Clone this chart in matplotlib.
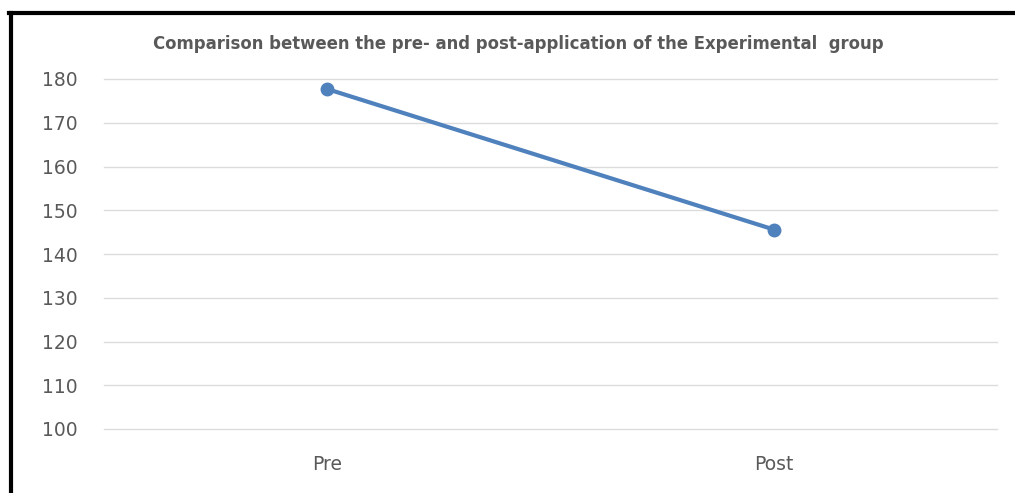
import matplotlib
matplotlib.use("Agg")
import matplotlib.pyplot as plt
from matplotlib.lines import Line2D

# Values
categories = ["Pre", "Post"]
scores = [177.7, 145.6]
y_ticks = [100, 110, 120, 130, 140, 150, 160, 170, 180]
title = "Comparison between the pre- and post-application of the Experimental  group"

W, H = 1015, 493
fig = plt.figure(figsize=(W / 100, H / 100), dpi=100)
ax = fig.add_axes([104 / W, 1 - 429 / H, (997 - 104) / W, (429 - 79) / H])

x = list(range(len(categories)))
ax.plot(x, scores, color="#4f81bd", linewidth=3, marker="o", markersize=9,
        solid_capstyle="round", zorder=3)

ax.set_xlim(-0.5, len(categories) - 0.5)
ax.set_ylim(100, 180)
ax.set_yticks(y_ticks)
ax.set_xticks(x)
ax.set_xticklabels(categories)
ax.grid(axis="y", color="#dcdcdc", linewidth=1)
for gl in ax.get_ygridlines():
    gl.set_clip_on(False)
ax.set_axisbelow(True)
for s in ax.spines.values():
    s.set_visible(False)
ax.tick_params(length=0, labelsize=13.5, colors="#595959")
ax.tick_params(axis="y", pad=19)
ax.tick_params(axis="x", pad=19)
for lab in ax.get_xticklabels() + ax.get_yticklabels():
    lab.set_fontfamily("DejaVu Sans")

fig.text(518 / W, 1 - 44 / H, title, ha="center", va="center",
         fontsize=11.9, fontweight="bold", color="#595959", family="DejaVu Sans")

# black frame on the left and top edges
fig.add_artist(Line2D([11 / W, 11 / W], [0, 1 - 12.5 / H], color="black",
                      linewidth=3, transform=fig.transFigure))
fig.add_artist(Line2D([9 / W, 1], [1 - 12.5 / H, 1 - 12.5 / H], color="black",
                      linewidth=3, transform=fig.transFigure))

fig.savefig("out.png", dpi=100)
